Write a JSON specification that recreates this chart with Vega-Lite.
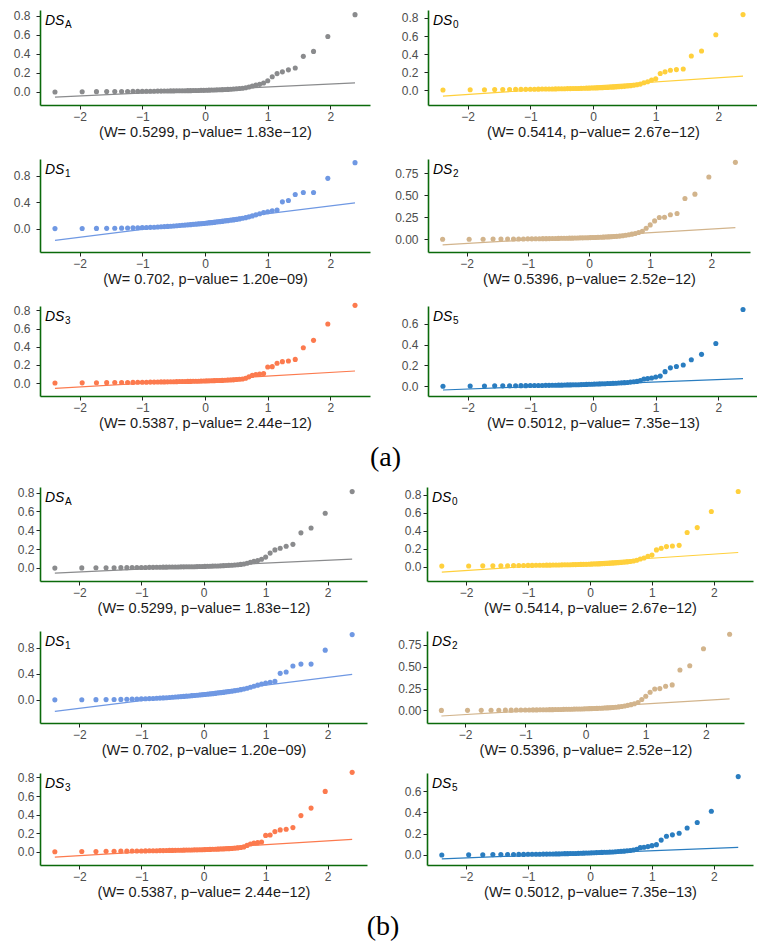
{
"$schema": "https://vega.github.io/schema/vega-lite/v6.json",
"padding": {"left": 13, "top": 9, "right": 0, "bottom": 0},
"background": "white",
"spacing": 14,
"config": {
 "view": {"stroke": null},
 "axis": {"domainColor": "#0A6A0A", "domainWidth": 1.6, "tickColor": "#222222", "tickSize": 4, "tickWidth": 1, "labelColor": "#4D4D4D", "labelFont": "Liberation Sans Narrow, Liberation Sans, sans-serif", "labelFontSize": 12, "labelOverlap": false, "labelFlush": false, "grid": false, "titleFont": "Liberation Sans", "titleFontSize": 14.5, "titleFontWeight": "normal", "titleColor": "#1A1A1A", "labelPadding": 2, "titlePadding": 3},
 "axisY": {"tickCount": 10},
 "title": {"font": "Liberation Serif", "fontSize": 28, "fontWeight": "normal", "color": "#000000"},
 "text": {"font": "Liberation Sans", "color": "#000000"}
},
"vconcat": [
 {"title": {"text": "(a)", "orient": "bottom", "anchor": "middle", "offset": 14},
  "columns": 2, "spacing": {"row": 54, "column": 58}, "bounds": "flush",
  "concat": [
    {"width": 330, "height": 95, "layer": [
     {"data": {"name": "LA"}, "mark": {"type": "line", "color": "#8A8B8D", "strokeWidth": 1.2}, "encoding": {"x": {"field": "x", "type": "quantitative", "scale": {"domain": [-2.633, 2.633], "nice": false, "zero": false}, "axis": {"values": [-2, -1, 0, 1, 2], "format": "d", "title": "(W= 0.5299, p−value= 1.83e−12)"}}, "y": {"field": "y", "type": "quantitative", "scale": {"domain": [-0.139, 0.859], "nice": false, "zero": false}, "axis": {"values": [0, 0.2, 0.4, 0.6, 0.8], "tickCount": 10, "format": ".1f", "title": null, "labelPadding": 6, "minExtent": 27}}}},
     {"data": {"name": "A"}, "mark": {"type": "circle", "color": "#8A8B8D", "size": 26, "opacity": 1}, "encoding": {"x": {"field": "x", "type": "quantitative"}, "y": {"field": "y", "type": "quantitative"}}},
     {"data": {"values": [{}]}, "mark": {"type": "text", "text": "DS", "fontStyle": "italic", "fontSize": 14, "align": "left", "baseline": "alphabetic", "dx": 5, "dy": 15}, "encoding": {"x": {"datum": -2.633, "type": "quantitative"}, "y": {"datum": 0.859, "type": "quantitative"}}},
     {"data": {"values": [{}]}, "mark": {"type": "text", "text": "A", "fontSize": 10, "align": "left", "baseline": "alphabetic", "dx": 25, "dy": 18}, "encoding": {"x": {"datum": -2.633, "type": "quantitative"}, "y": {"datum": 0.859, "type": "quantitative"}}}
    ]},
    {"width": 330, "height": 95, "layer": [
     {"data": {"name": "L0"}, "mark": {"type": "line", "color": "#FFD03C", "strokeWidth": 1.2}, "encoding": {"x": {"field": "x", "type": "quantitative", "scale": {"domain": [-2.633, 2.633], "nice": false, "zero": false}, "axis": {"values": [-2, -1, 0, 1, 2], "format": "d", "title": "(W= 0.5414, p−value= 2.67e−12)"}}, "y": {"field": "y", "type": "quantitative", "scale": {"domain": [-0.161, 0.888], "nice": false, "zero": false}, "axis": {"values": [0, 0.2, 0.4, 0.6, 0.8], "tickCount": 10, "format": ".1f", "title": null, "labelPadding": 6}}}},
     {"data": {"name": "D0"}, "mark": {"type": "circle", "color": "#FFD03C", "size": 26, "opacity": 1}, "encoding": {"x": {"field": "x", "type": "quantitative"}, "y": {"field": "y", "type": "quantitative"}}},
     {"data": {"values": [{}]}, "mark": {"type": "text", "text": "DS", "fontStyle": "italic", "fontSize": 14, "align": "left", "baseline": "alphabetic", "dx": 5, "dy": 15}, "encoding": {"x": {"datum": -2.633, "type": "quantitative"}, "y": {"datum": 0.888, "type": "quantitative"}}},
     {"data": {"values": [{}]}, "mark": {"type": "text", "text": "0", "fontSize": 10, "align": "left", "baseline": "alphabetic", "dx": 25, "dy": 18}, "encoding": {"x": {"datum": -2.633, "type": "quantitative"}, "y": {"datum": 0.888, "type": "quantitative"}}}
    ]},
    {"width": 330, "height": 93, "layer": [
     {"data": {"name": "L1"}, "mark": {"type": "line", "color": "#6F98E3", "strokeWidth": 1.2}, "encoding": {"x": {"field": "x", "type": "quantitative", "scale": {"domain": [-2.633, 2.633], "nice": false, "zero": false}, "axis": {"values": [-2, -1, 0, 1, 2], "format": "d", "title": "(W= 0.702, p−value= 1.20e−09)"}}, "y": {"field": "y", "type": "quantitative", "scale": {"domain": [-0.354, 1.053], "nice": false, "zero": false}, "axis": {"values": [0, 0.4, 0.8], "tickCount": 10, "format": ".1f", "title": null, "labelPadding": 6, "minExtent": 27}}}},
     {"data": {"name": "D1"}, "mark": {"type": "circle", "color": "#6F98E3", "size": 26, "opacity": 1}, "encoding": {"x": {"field": "x", "type": "quantitative"}, "y": {"field": "y", "type": "quantitative"}}},
     {"data": {"values": [{}]}, "mark": {"type": "text", "text": "DS", "fontStyle": "italic", "fontSize": 14, "align": "left", "baseline": "alphabetic", "dx": 5, "dy": 15}, "encoding": {"x": {"datum": -2.633, "type": "quantitative"}, "y": {"datum": 1.053, "type": "quantitative"}}},
     {"data": {"values": [{}]}, "mark": {"type": "text", "text": "1", "fontSize": 10, "align": "left", "baseline": "alphabetic", "dx": 25, "dy": 18}, "encoding": {"x": {"datum": -2.633, "type": "quantitative"}, "y": {"datum": 1.053, "type": "quantitative"}}}
    ]},
    {"width": 322, "height": 93, "layer": [
     {"data": {"name": "L2"}, "mark": {"type": "line", "color": "#D2B48C", "strokeWidth": 1.2}, "encoding": {"x": {"field": "x", "type": "quantitative", "scale": {"domain": [-2.633, 2.633], "nice": false, "zero": false}, "axis": {"values": [-2, -1, 0, 1, 2], "format": "d", "title": "(W= 0.5396, p−value= 2.52e−12)"}}, "y": {"field": "y", "type": "quantitative", "scale": {"domain": [-0.144, 0.909], "nice": false, "zero": false}, "axis": {"values": [0, 0.25, 0.5, 0.75], "tickCount": 10, "format": ".2f", "title": null, "labelPadding": 6}}}},
     {"data": {"name": "D2"}, "mark": {"type": "circle", "color": "#D2B48C", "size": 26, "opacity": 1}, "encoding": {"x": {"field": "x", "type": "quantitative"}, "y": {"field": "y", "type": "quantitative"}}},
     {"data": {"values": [{}]}, "mark": {"type": "text", "text": "DS", "fontStyle": "italic", "fontSize": 14, "align": "left", "baseline": "alphabetic", "dx": 5, "dy": 15}, "encoding": {"x": {"datum": -2.633, "type": "quantitative"}, "y": {"datum": 0.909, "type": "quantitative"}}},
     {"data": {"values": [{}]}, "mark": {"type": "text", "text": "2", "fontSize": 10, "align": "left", "baseline": "alphabetic", "dx": 25, "dy": 18}, "encoding": {"x": {"datum": -2.633, "type": "quantitative"}, "y": {"datum": 0.909, "type": "quantitative"}}}
    ]},
    {"width": 330, "height": 90, "layer": [
     {"data": {"name": "L3"}, "mark": {"type": "line", "color": "#FC7A4E", "strokeWidth": 1.2}, "encoding": {"x": {"field": "x", "type": "quantitative", "scale": {"domain": [-2.633, 2.633], "nice": false, "zero": false}, "axis": {"values": [-2, -1, 0, 1, 2], "format": "d", "title": "(W= 0.5387, p−value= 2.44e−12)"}}, "y": {"field": "y", "type": "quantitative", "scale": {"domain": [-0.143, 0.848], "nice": false, "zero": false}, "axis": {"values": [0, 0.2, 0.4, 0.6, 0.8], "tickCount": 10, "format": ".1f", "title": null, "labelPadding": 6, "minExtent": 27}}}},
     {"data": {"name": "D3"}, "mark": {"type": "circle", "color": "#FC7A4E", "size": 26, "opacity": 1}, "encoding": {"x": {"field": "x", "type": "quantitative"}, "y": {"field": "y", "type": "quantitative"}}},
     {"data": {"values": [{}]}, "mark": {"type": "text", "text": "DS", "fontStyle": "italic", "fontSize": 14, "align": "left", "baseline": "alphabetic", "dx": 5, "dy": 15}, "encoding": {"x": {"datum": -2.633, "type": "quantitative"}, "y": {"datum": 0.848, "type": "quantitative"}}},
     {"data": {"values": [{}]}, "mark": {"type": "text", "text": "3", "fontSize": 10, "align": "left", "baseline": "alphabetic", "dx": 25, "dy": 18}, "encoding": {"x": {"datum": -2.633, "type": "quantitative"}, "y": {"datum": 0.848, "type": "quantitative"}}}
    ]},
    {"width": 330, "height": 90, "layer": [
     {"data": {"name": "L5"}, "mark": {"type": "line", "color": "#2A7DC0", "strokeWidth": 1.2}, "encoding": {"x": {"field": "x", "type": "quantitative", "scale": {"domain": [-2.633, 2.633], "nice": false, "zero": false}, "axis": {"values": [-2, -1, 0, 1, 2], "format": "d", "title": "(W= 0.5012, p−value= 7.35e−13)"}}, "y": {"field": "y", "type": "quantitative", "scale": {"domain": [-0.096, 0.773], "nice": false, "zero": false}, "axis": {"values": [0, 0.2, 0.4, 0.6], "tickCount": 10, "format": ".1f", "title": null, "labelPadding": 6}}}},
     {"data": {"name": "D5"}, "mark": {"type": "circle", "color": "#2A7DC0", "size": 26, "opacity": 1}, "encoding": {"x": {"field": "x", "type": "quantitative"}, "y": {"field": "y", "type": "quantitative"}}},
     {"data": {"values": [{}]}, "mark": {"type": "text", "text": "DS", "fontStyle": "italic", "fontSize": 14, "align": "left", "baseline": "alphabetic", "dx": 5, "dy": 15}, "encoding": {"x": {"datum": -2.633, "type": "quantitative"}, "y": {"datum": 0.773, "type": "quantitative"}}},
     {"data": {"values": [{}]}, "mark": {"type": "text", "text": "5", "fontSize": 10, "align": "left", "baseline": "alphabetic", "dx": 25, "dy": 18}, "encoding": {"x": {"datum": -2.633, "type": "quantitative"}, "y": {"datum": 0.773, "type": "quantitative"}}}
    ]}
  ]},
 {"title": {"text": "(b)", "orient": "bottom", "anchor": "middle", "offset": 14},
  "columns": 2, "spacing": {"row": 50, "column": 60}, "bounds": "flush",
  "concat": [
    {"width": 327, "height": 94, "layer": [
     {"data": {"name": "LA"}, "mark": {"type": "line", "color": "#8A8B8D", "strokeWidth": 1.2}, "encoding": {"x": {"field": "x", "type": "quantitative", "scale": {"domain": [-2.633, 2.633], "nice": false, "zero": false}, "axis": {"values": [-2, -1, 0, 1, 2], "format": "d", "title": "(W= 0.5299, p−value= 1.83e−12)"}}, "y": {"field": "y", "type": "quantitative", "scale": {"domain": [-0.139, 0.859], "nice": false, "zero": false}, "axis": {"values": [0, 0.2, 0.4, 0.6, 0.8], "tickCount": 10, "format": ".1f", "title": null, "minExtent": 27}}}},
     {"data": {"name": "A"}, "mark": {"type": "circle", "color": "#8A8B8D", "size": 26, "opacity": 1}, "encoding": {"x": {"field": "x", "type": "quantitative"}, "y": {"field": "y", "type": "quantitative"}}},
     {"data": {"values": [{}]}, "mark": {"type": "text", "text": "DS", "fontStyle": "italic", "fontSize": 14, "align": "left", "baseline": "alphabetic", "dx": 5, "dy": 15}, "encoding": {"x": {"datum": -2.633, "type": "quantitative"}, "y": {"datum": 0.859, "type": "quantitative"}}},
     {"data": {"values": [{}]}, "mark": {"type": "text", "text": "A", "fontSize": 10, "align": "left", "baseline": "alphabetic", "dx": 25, "dy": 18}, "encoding": {"x": {"datum": -2.633, "type": "quantitative"}, "y": {"datum": 0.859, "type": "quantitative"}}}
    ]},
    {"width": 326, "height": 94, "layer": [
     {"data": {"name": "L0"}, "mark": {"type": "line", "color": "#FFD03C", "strokeWidth": 1.2}, "encoding": {"x": {"field": "x", "type": "quantitative", "scale": {"domain": [-2.633, 2.633], "nice": false, "zero": false}, "axis": {"values": [-2, -1, 0, 1, 2], "format": "d", "title": "(W= 0.5414, p−value= 2.67e−12)"}}, "y": {"field": "y", "type": "quantitative", "scale": {"domain": [-0.161, 0.888], "nice": false, "zero": false}, "axis": {"values": [0, 0.2, 0.4, 0.6, 0.8], "tickCount": 10, "format": ".1f", "title": null}}}},
     {"data": {"name": "D0"}, "mark": {"type": "circle", "color": "#FFD03C", "size": 26, "opacity": 1}, "encoding": {"x": {"field": "x", "type": "quantitative"}, "y": {"field": "y", "type": "quantitative"}}},
     {"data": {"values": [{}]}, "mark": {"type": "text", "text": "DS", "fontStyle": "italic", "fontSize": 14, "align": "left", "baseline": "alphabetic", "dx": 5, "dy": 15}, "encoding": {"x": {"datum": -2.633, "type": "quantitative"}, "y": {"datum": 0.888, "type": "quantitative"}}},
     {"data": {"values": [{}]}, "mark": {"type": "text", "text": "0", "fontSize": 10, "align": "left", "baseline": "alphabetic", "dx": 25, "dy": 18}, "encoding": {"x": {"datum": -2.633, "type": "quantitative"}, "y": {"datum": 0.888, "type": "quantitative"}}}
    ]},
    {"width": 327, "height": 92, "layer": [
     {"data": {"name": "L1"}, "mark": {"type": "line", "color": "#6F98E3", "strokeWidth": 1.2}, "encoding": {"x": {"field": "x", "type": "quantitative", "scale": {"domain": [-2.633, 2.633], "nice": false, "zero": false}, "axis": {"values": [-2, -1, 0, 1, 2], "format": "d", "title": "(W= 0.702, p−value= 1.20e−09)"}}, "y": {"field": "y", "type": "quantitative", "scale": {"domain": [-0.354, 1.053], "nice": false, "zero": false}, "axis": {"values": [0, 0.4, 0.8], "tickCount": 10, "format": ".1f", "title": null, "minExtent": 27}}}},
     {"data": {"name": "D1"}, "mark": {"type": "circle", "color": "#6F98E3", "size": 26, "opacity": 1}, "encoding": {"x": {"field": "x", "type": "quantitative"}, "y": {"field": "y", "type": "quantitative"}}},
     {"data": {"values": [{}]}, "mark": {"type": "text", "text": "DS", "fontStyle": "italic", "fontSize": 14, "align": "left", "baseline": "alphabetic", "dx": 5, "dy": 15}, "encoding": {"x": {"datum": -2.633, "type": "quantitative"}, "y": {"datum": 1.053, "type": "quantitative"}}},
     {"data": {"values": [{}]}, "mark": {"type": "text", "text": "1", "fontSize": 10, "align": "left", "baseline": "alphabetic", "dx": 25, "dy": 18}, "encoding": {"x": {"datum": -2.633, "type": "quantitative"}, "y": {"datum": 1.053, "type": "quantitative"}}}
    ]},
    {"width": 317, "height": 92, "layer": [
     {"data": {"name": "L2"}, "mark": {"type": "line", "color": "#D2B48C", "strokeWidth": 1.2}, "encoding": {"x": {"field": "x", "type": "quantitative", "scale": {"domain": [-2.633, 2.633], "nice": false, "zero": false}, "axis": {"values": [-2, -1, 0, 1, 2], "format": "d", "title": "(W= 0.5396, p−value= 2.52e−12)"}}, "y": {"field": "y", "type": "quantitative", "scale": {"domain": [-0.144, 0.909], "nice": false, "zero": false}, "axis": {"values": [0, 0.25, 0.5, 0.75], "tickCount": 10, "format": ".2f", "title": null}}}},
     {"data": {"name": "D2"}, "mark": {"type": "circle", "color": "#D2B48C", "size": 26, "opacity": 1}, "encoding": {"x": {"field": "x", "type": "quantitative"}, "y": {"field": "y", "type": "quantitative"}}},
     {"data": {"values": [{}]}, "mark": {"type": "text", "text": "DS", "fontStyle": "italic", "fontSize": 14, "align": "left", "baseline": "alphabetic", "dx": 5, "dy": 15}, "encoding": {"x": {"datum": -2.633, "type": "quantitative"}, "y": {"datum": 0.909, "type": "quantitative"}}},
     {"data": {"values": [{}]}, "mark": {"type": "text", "text": "2", "fontSize": 10, "align": "left", "baseline": "alphabetic", "dx": 25, "dy": 18}, "encoding": {"x": {"datum": -2.633, "type": "quantitative"}, "y": {"datum": 0.909, "type": "quantitative"}}}
    ]},
    {"width": 327, "height": 92, "layer": [
     {"data": {"name": "L3"}, "mark": {"type": "line", "color": "#FC7A4E", "strokeWidth": 1.2}, "encoding": {"x": {"field": "x", "type": "quantitative", "scale": {"domain": [-2.633, 2.633], "nice": false, "zero": false}, "axis": {"values": [-2, -1, 0, 1, 2], "format": "d", "title": "(W= 0.5387, p−value= 2.44e−12)"}}, "y": {"field": "y", "type": "quantitative", "scale": {"domain": [-0.143, 0.848], "nice": false, "zero": false}, "axis": {"values": [0, 0.2, 0.4, 0.6, 0.8], "tickCount": 10, "format": ".1f", "title": null, "minExtent": 27}}}},
     {"data": {"name": "D3"}, "mark": {"type": "circle", "color": "#FC7A4E", "size": 26, "opacity": 1}, "encoding": {"x": {"field": "x", "type": "quantitative"}, "y": {"field": "y", "type": "quantitative"}}},
     {"data": {"values": [{}]}, "mark": {"type": "text", "text": "DS", "fontStyle": "italic", "fontSize": 14, "align": "left", "baseline": "alphabetic", "dx": 5, "dy": 15}, "encoding": {"x": {"datum": -2.633, "type": "quantitative"}, "y": {"datum": 0.848, "type": "quantitative"}}},
     {"data": {"values": [{}]}, "mark": {"type": "text", "text": "3", "fontSize": 10, "align": "left", "baseline": "alphabetic", "dx": 25, "dy": 18}, "encoding": {"x": {"datum": -2.633, "type": "quantitative"}, "y": {"datum": 0.848, "type": "quantitative"}}}
    ]},
    {"width": 326, "height": 92, "layer": [
     {"data": {"name": "L5"}, "mark": {"type": "line", "color": "#2A7DC0", "strokeWidth": 1.2}, "encoding": {"x": {"field": "x", "type": "quantitative", "scale": {"domain": [-2.633, 2.633], "nice": false, "zero": false}, "axis": {"values": [-2, -1, 0, 1, 2], "format": "d", "title": "(W= 0.5012, p−value= 7.35e−13)"}}, "y": {"field": "y", "type": "quantitative", "scale": {"domain": [-0.096, 0.773], "nice": false, "zero": false}, "axis": {"values": [0, 0.2, 0.4, 0.6], "tickCount": 10, "format": ".1f", "title": null}}}},
     {"data": {"name": "D5"}, "mark": {"type": "circle", "color": "#2A7DC0", "size": 26, "opacity": 1}, "encoding": {"x": {"field": "x", "type": "quantitative"}, "y": {"field": "y", "type": "quantitative"}}},
     {"data": {"values": [{}]}, "mark": {"type": "text", "text": "DS", "fontStyle": "italic", "fontSize": 14, "align": "left", "baseline": "alphabetic", "dx": 5, "dy": 15}, "encoding": {"x": {"datum": -2.633, "type": "quantitative"}, "y": {"datum": 0.773, "type": "quantitative"}}},
     {"data": {"values": [{}]}, "mark": {"type": "text", "text": "5", "fontSize": 10, "align": "left", "baseline": "alphabetic", "dx": 25, "dy": 18}, "encoding": {"x": {"datum": -2.633, "type": "quantitative"}, "y": {"datum": 0.773, "type": "quantitative"}}}
    ]}
  ]}
],
"datasets": {
 "LA": [{"x": -2.394, "y": -0.056}, {"x": 2.394, "y": 0.094}],
 "L0": [{"x": -2.394, "y": -0.062}, {"x": 2.394, "y": 0.157}],
 "L1": [{"x": -2.394, "y": -0.177}, {"x": 2.394, "y": 0.39}],
 "L2": [{"x": -2.394, "y": -0.064}, {"x": 2.394, "y": 0.133}],
 "L3": [{"x": -2.394, "y": -0.059}, {"x": 2.394, "y": 0.132}],
 "L5": [{"x": -2.394, "y": -0.038}, {"x": 2.394, "y": 0.071}],
 "A": [{"x":-2.394,"y":-0.002},{"x":-1.960,"y":0.000},{"x":-1.732,"y":0.001},{"x":-1.569,"y":0.002},{"x":-1.440,"y":0.002},{"x":-1.331,"y":0.003},{"x":-1.235,"y":0.003},{"x":-1.150,"y":0.004},{"x":-1.073,"y":0.004},{"x":-1.001,"y":0.005},{"x":-0.935,"y":0.005},{"x":-0.872,"y":0.006},{"x":-0.812,"y":0.006},{"x":-0.755,"y":0.007},{"x":-0.701,"y":0.007},{"x":-0.649,"y":0.008},{"x":-0.598,"y":0.008},{"x":-0.549,"y":0.009},{"x":-0.501,"y":0.009},{"x":-0.454,"y":0.010},{"x":-0.408,"y":0.010},{"x":-0.363,"y":0.011},{"x":-0.319,"y":0.011},{"x":-0.275,"y":0.012},{"x":-0.232,"y":0.012},{"x":-0.189,"y":0.013},{"x":-0.147,"y":0.013},{"x":-0.105,"y":0.014},{"x":-0.063,"y":0.015},{"x":-0.021,"y":0.015},{"x":0.021,"y":0.016},{"x":0.063,"y":0.017},{"x":0.105,"y":0.018},{"x":0.147,"y":0.019},{"x":0.189,"y":0.020},{"x":0.232,"y":0.021},{"x":0.275,"y":0.022},{"x":0.319,"y":0.024},{"x":0.363,"y":0.025},{"x":0.408,"y":0.027},{"x":0.454,"y":0.029},{"x":0.501,"y":0.031},{"x":0.549,"y":0.034},{"x":0.598,"y":0.037},{"x":0.649,"y":0.042},{"x":0.701,"y":0.050},{"x":0.755,"y":0.060},{"x":0.812,"y":0.070},{"x":0.872,"y":0.078},{"x":0.935,"y":0.092},{"x":1.001,"y":0.115},{"x":1.073,"y":0.157},{"x":1.150,"y":0.191},{"x":1.235,"y":0.209},{"x":1.331,"y":0.230},{"x":1.440,"y":0.250},{"x":1.569,"y":0.372},{"x":1.732,"y":0.424},{"x":1.960,"y":0.580},{"x":2.394,"y":0.810}],
 "D0": [{"x":-2.394,"y":0.005},{"x":-1.960,"y":0.007},{"x":-1.732,"y":0.008},{"x":-1.569,"y":0.009},{"x":-1.440,"y":0.010},{"x":-1.331,"y":0.010},{"x":-1.235,"y":0.011},{"x":-1.150,"y":0.012},{"x":-1.073,"y":0.012},{"x":-1.001,"y":0.013},{"x":-0.935,"y":0.013},{"x":-0.872,"y":0.014},{"x":-0.812,"y":0.015},{"x":-0.755,"y":0.015},{"x":-0.701,"y":0.016},{"x":-0.649,"y":0.016},{"x":-0.598,"y":0.017},{"x":-0.549,"y":0.018},{"x":-0.501,"y":0.018},{"x":-0.454,"y":0.019},{"x":-0.408,"y":0.020},{"x":-0.363,"y":0.020},{"x":-0.319,"y":0.021},{"x":-0.275,"y":0.022},{"x":-0.232,"y":0.022},{"x":-0.189,"y":0.023},{"x":-0.147,"y":0.024},{"x":-0.105,"y":0.025},{"x":-0.063,"y":0.025},{"x":-0.021,"y":0.026},{"x":0.021,"y":0.027},{"x":0.063,"y":0.028},{"x":0.105,"y":0.029},{"x":0.147,"y":0.030},{"x":0.189,"y":0.032},{"x":0.232,"y":0.033},{"x":0.275,"y":0.035},{"x":0.319,"y":0.036},{"x":0.363,"y":0.038},{"x":0.408,"y":0.040},{"x":0.454,"y":0.042},{"x":0.501,"y":0.045},{"x":0.549,"y":0.048},{"x":0.598,"y":0.052},{"x":0.649,"y":0.057},{"x":0.701,"y":0.063},{"x":0.755,"y":0.070},{"x":0.812,"y":0.085},{"x":0.872,"y":0.095},{"x":0.935,"y":0.115},{"x":1.001,"y":0.128},{"x":1.073,"y":0.186},{"x":1.150,"y":0.205},{"x":1.235,"y":0.223},{"x":1.331,"y":0.230},{"x":1.440,"y":0.237},{"x":1.569,"y":0.380},{"x":1.732,"y":0.435},{"x":1.960,"y":0.614},{"x":2.394,"y":0.837}],
 "D1": [{"x":-2.394,"y":0.000},{"x":-1.960,"y":0.001},{"x":-1.732,"y":0.003},{"x":-1.569,"y":0.004},{"x":-1.440,"y":0.005},{"x":-1.331,"y":0.007},{"x":-1.235,"y":0.009},{"x":-1.150,"y":0.011},{"x":-1.073,"y":0.013},{"x":-1.001,"y":0.015},{"x":-0.935,"y":0.017},{"x":-0.872,"y":0.019},{"x":-0.812,"y":0.021},{"x":-0.755,"y":0.024},{"x":-0.701,"y":0.027},{"x":-0.649,"y":0.030},{"x":-0.598,"y":0.033},{"x":-0.549,"y":0.036},{"x":-0.501,"y":0.040},{"x":-0.454,"y":0.043},{"x":-0.408,"y":0.046},{"x":-0.363,"y":0.050},{"x":-0.319,"y":0.053},{"x":-0.275,"y":0.057},{"x":-0.232,"y":0.060},{"x":-0.189,"y":0.064},{"x":-0.147,"y":0.067},{"x":-0.105,"y":0.071},{"x":-0.063,"y":0.074},{"x":-0.021,"y":0.078},{"x":0.021,"y":0.082},{"x":0.063,"y":0.086},{"x":0.105,"y":0.090},{"x":0.147,"y":0.094},{"x":0.189,"y":0.099},{"x":0.232,"y":0.104},{"x":0.275,"y":0.109},{"x":0.319,"y":0.114},{"x":0.363,"y":0.120},{"x":0.408,"y":0.126},{"x":0.454,"y":0.132},{"x":0.501,"y":0.139},{"x":0.549,"y":0.147},{"x":0.598,"y":0.156},{"x":0.649,"y":0.166},{"x":0.701,"y":0.178},{"x":0.755,"y":0.192},{"x":0.812,"y":0.208},{"x":0.872,"y":0.225},{"x":0.935,"y":0.242},{"x":1.001,"y":0.256},{"x":1.073,"y":0.270},{"x":1.150,"y":0.282},{"x":1.235,"y":0.405},{"x":1.331,"y":0.426},{"x":1.440,"y":0.517},{"x":1.569,"y":0.547},{"x":1.732,"y":0.547},{"x":1.960,"y":0.760},{"x":2.394,"y":0.998}],
 "D2": [{"x":-2.394,"y":0.000},{"x":-1.960,"y":0.001},{"x":-1.732,"y":0.001},{"x":-1.569,"y":0.002},{"x":-1.440,"y":0.002},{"x":-1.331,"y":0.003},{"x":-1.235,"y":0.003},{"x":-1.150,"y":0.004},{"x":-1.073,"y":0.004},{"x":-1.001,"y":0.005},{"x":-0.935,"y":0.005},{"x":-0.872,"y":0.006},{"x":-0.812,"y":0.006},{"x":-0.755,"y":0.007},{"x":-0.701,"y":0.007},{"x":-0.649,"y":0.008},{"x":-0.598,"y":0.009},{"x":-0.549,"y":0.009},{"x":-0.501,"y":0.010},{"x":-0.454,"y":0.011},{"x":-0.408,"y":0.011},{"x":-0.363,"y":0.012},{"x":-0.319,"y":0.013},{"x":-0.275,"y":0.013},{"x":-0.232,"y":0.014},{"x":-0.189,"y":0.015},{"x":-0.147,"y":0.016},{"x":-0.105,"y":0.016},{"x":-0.063,"y":0.017},{"x":-0.021,"y":0.018},{"x":0.021,"y":0.019},{"x":0.063,"y":0.020},{"x":0.105,"y":0.021},{"x":0.147,"y":0.022},{"x":0.189,"y":0.023},{"x":0.232,"y":0.024},{"x":0.275,"y":0.025},{"x":0.319,"y":0.027},{"x":0.363,"y":0.029},{"x":0.408,"y":0.031},{"x":0.454,"y":0.033},{"x":0.501,"y":0.036},{"x":0.549,"y":0.040},{"x":0.598,"y":0.045},{"x":0.649,"y":0.051},{"x":0.701,"y":0.058},{"x":0.755,"y":0.066},{"x":0.812,"y":0.076},{"x":0.872,"y":0.090},{"x":0.935,"y":0.125},{"x":1.001,"y":0.163},{"x":1.073,"y":0.208},{"x":1.150,"y":0.246},{"x":1.235,"y":0.250},{"x":1.331,"y":0.277},{"x":1.440,"y":0.292},{"x":1.569,"y":0.462},{"x":1.732,"y":0.511},{"x":1.960,"y":0.705},{"x":2.394,"y":0.871}],
 "D3": [{"x":-2.394,"y":0.000},{"x":-1.960,"y":0.002},{"x":-1.732,"y":0.003},{"x":-1.569,"y":0.004},{"x":-1.440,"y":0.005},{"x":-1.331,"y":0.006},{"x":-1.235,"y":0.006},{"x":-1.150,"y":0.007},{"x":-1.073,"y":0.008},{"x":-1.001,"y":0.008},{"x":-0.935,"y":0.009},{"x":-0.872,"y":0.010},{"x":-0.812,"y":0.010},{"x":-0.755,"y":0.011},{"x":-0.701,"y":0.012},{"x":-0.649,"y":0.012},{"x":-0.598,"y":0.013},{"x":-0.549,"y":0.014},{"x":-0.501,"y":0.014},{"x":-0.454,"y":0.015},{"x":-0.408,"y":0.016},{"x":-0.363,"y":0.016},{"x":-0.319,"y":0.017},{"x":-0.275,"y":0.018},{"x":-0.232,"y":0.018},{"x":-0.189,"y":0.019},{"x":-0.147,"y":0.020},{"x":-0.105,"y":0.020},{"x":-0.063,"y":0.021},{"x":-0.021,"y":0.022},{"x":0.021,"y":0.023},{"x":0.063,"y":0.024},{"x":0.105,"y":0.025},{"x":0.147,"y":0.026},{"x":0.189,"y":0.027},{"x":0.232,"y":0.028},{"x":0.275,"y":0.029},{"x":0.319,"y":0.030},{"x":0.363,"y":0.032},{"x":0.408,"y":0.033},{"x":0.454,"y":0.035},{"x":0.501,"y":0.038},{"x":0.549,"y":0.041},{"x":0.598,"y":0.045},{"x":0.649,"y":0.052},{"x":0.701,"y":0.068},{"x":0.755,"y":0.084},{"x":0.812,"y":0.093},{"x":0.872,"y":0.098},{"x":0.935,"y":0.104},{"x":1.001,"y":0.176},{"x":1.073,"y":0.180},{"x":1.150,"y":0.217},{"x":1.235,"y":0.235},{"x":1.331,"y":0.242},{"x":1.440,"y":0.260},{"x":1.569,"y":0.389},{"x":1.732,"y":0.470},{"x":1.960,"y":0.650},{"x":2.394,"y":0.855}],
 "D5": [{"x":-2.394,"y":-0.002},{"x":-1.960,"y":0.000},{"x":-1.732,"y":0.001},{"x":-1.569,"y":0.002},{"x":-1.440,"y":0.002},{"x":-1.331,"y":0.003},{"x":-1.235,"y":0.003},{"x":-1.150,"y":0.004},{"x":-1.073,"y":0.004},{"x":-1.001,"y":0.005},{"x":-0.935,"y":0.005},{"x":-0.872,"y":0.006},{"x":-0.812,"y":0.006},{"x":-0.755,"y":0.007},{"x":-0.701,"y":0.007},{"x":-0.649,"y":0.008},{"x":-0.598,"y":0.008},{"x":-0.549,"y":0.009},{"x":-0.501,"y":0.009},{"x":-0.454,"y":0.010},{"x":-0.408,"y":0.011},{"x":-0.363,"y":0.011},{"x":-0.319,"y":0.012},{"x":-0.275,"y":0.013},{"x":-0.232,"y":0.013},{"x":-0.189,"y":0.014},{"x":-0.147,"y":0.015},{"x":-0.105,"y":0.016},{"x":-0.063,"y":0.017},{"x":-0.021,"y":0.018},{"x":0.021,"y":0.019},{"x":0.063,"y":0.020},{"x":0.105,"y":0.021},{"x":0.147,"y":0.022},{"x":0.189,"y":0.023},{"x":0.232,"y":0.024},{"x":0.275,"y":0.025},{"x":0.319,"y":0.026},{"x":0.363,"y":0.027},{"x":0.408,"y":0.029},{"x":0.454,"y":0.031},{"x":0.501,"y":0.033},{"x":0.549,"y":0.035},{"x":0.598,"y":0.038},{"x":0.649,"y":0.041},{"x":0.701,"y":0.045},{"x":0.755,"y":0.052},{"x":0.812,"y":0.068},{"x":0.872,"y":0.072},{"x":0.935,"y":0.078},{"x":1.001,"y":0.087},{"x":1.073,"y":0.096},{"x":1.150,"y":0.139},{"x":1.235,"y":0.176},{"x":1.331,"y":0.189},{"x":1.440,"y":0.204},{"x":1.569,"y":0.254},{"x":1.732,"y":0.306},{"x":1.960,"y":0.411},{"x":2.394,"y":0.739}]
}
}
